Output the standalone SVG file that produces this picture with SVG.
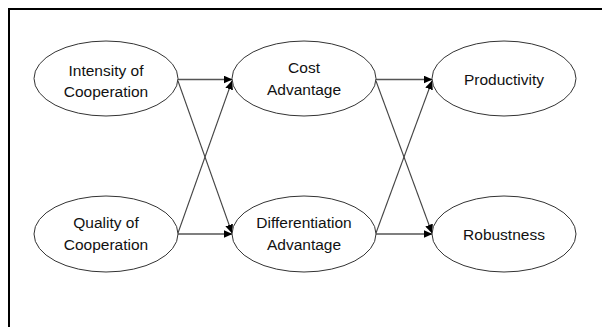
<svg xmlns="http://www.w3.org/2000/svg" width="602" height="327" viewBox="0 0 602 327">
<style>
.node ellipse{fill:#fff;stroke:#333;stroke-width:1}
.node text{font-family:"Liberation Sans",Arial,sans-serif;font-size:15.5px;fill:#111;text-anchor:middle}
.conn line{stroke:#444;stroke-width:1.1;fill:none}
.conn line.h{stroke:#555;stroke-width:1.7}
</style>
<defs>
<marker id="ah" markerWidth="9" markerHeight="8" refX="8.5" refY="4" orient="auto" markerUnits="userSpaceOnUse">
<path d="M0,0 L9,4 L0,8 Z" fill="#000"/>
</marker>
</defs>
<rect x="0" y="0" width="602" height="327" fill="#fff"/>
<g id="frame" stroke="#000" stroke-width="2" fill="none">
<line x1="9" y1="9" x2="602" y2="9"/>
<line x1="9" y1="8" x2="9" y2="327"/>
</g>
<g class="conn" id="connectors">
<line class="h" x1="178" y1="79.5" x2="232" y2="79.5" marker-end="url(#ah)"/>
<line class="h" x1="178" y1="234" x2="232" y2="234" marker-end="url(#ah)"/>
<line x1="178" y1="81" x2="232" y2="233" marker-end="url(#ah)"/>
<line x1="178" y1="233" x2="232" y2="81" marker-end="url(#ah)"/>
<line class="h" x1="376" y1="79.5" x2="432" y2="79.5" marker-end="url(#ah)"/>
<line class="h" x1="376" y1="234" x2="432" y2="234" marker-end="url(#ah)"/>
<line x1="376" y1="81" x2="432" y2="233" marker-end="url(#ah)"/>
<line x1="376" y1="233" x2="432" y2="81" marker-end="url(#ah)"/>
</g>
<g class="node" id="intensity">
<ellipse cx="106" cy="78.5" rx="72" ry="37.5"/>
<text x="106" y="76">Intensity of</text>
<text x="106" y="97">Cooperation</text>
</g>
<g class="node" id="quality">
<ellipse cx="106" cy="234" rx="72" ry="38"/>
<text x="106" y="228">Quality of</text>
<text x="106" y="250">Cooperation</text>
</g>
<g class="node" id="cost">
<ellipse cx="304" cy="78.5" rx="72" ry="37.5"/>
<text x="304" y="73">Cost</text>
<text x="304" y="95">Advantage</text>
</g>
<g class="node" id="differentiation">
<ellipse cx="304" cy="234" rx="72" ry="38"/>
<text x="304" y="228">Differentiation</text>
<text x="304" y="250">Advantage</text>
</g>
<g class="node" id="productivity">
<ellipse cx="504" cy="78.5" rx="72" ry="37.5"/>
<text x="504" y="85">Productivity</text>
</g>
<g class="node" id="robustness">
<ellipse cx="504" cy="234" rx="72" ry="38"/>
<text x="504" y="240">Robustness</text>
</g>
</svg>
